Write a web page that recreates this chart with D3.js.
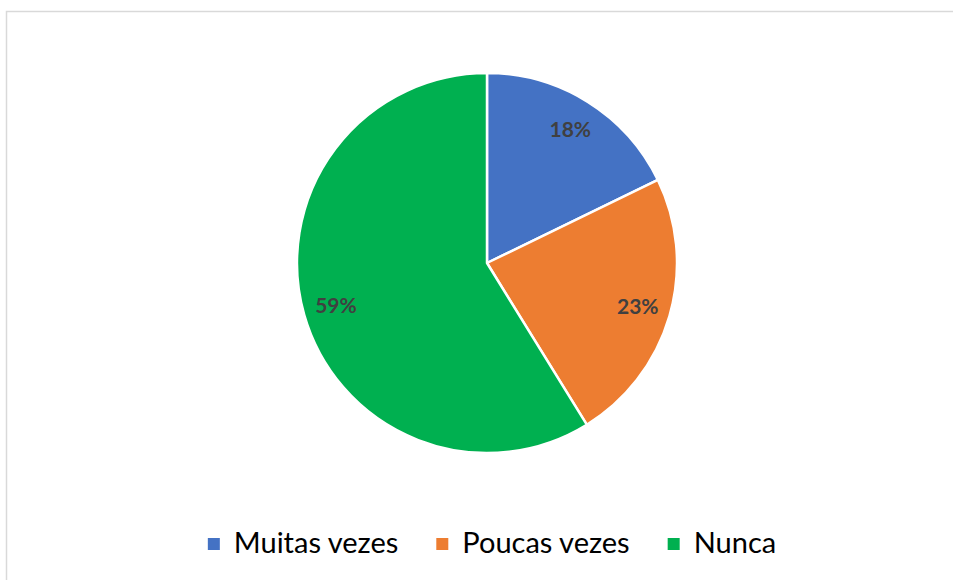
<!DOCTYPE html>
<html>
<head>
    <meta charset="utf-8">
    <title>Pie</title>
    <script src="https://cdnjs.cloudflare.com/ajax/libs/d3/7.8.5/d3.min.js"></script>
    <style>
        body { margin: 0; background: #fff; }
        svg { display: block; }
    </style>
</head>
<body>
    <div id="chart"></div>

    <script>
        // data (shares in %)
        var categories = ["Muitas vezes", "Poucas vezes", "Nunca"];
        var values = [17.8, 23.4, 58.8];
        var colors = ["#4472C4", "#ED7D31", "#00B050"];

        var width = 953,
            height = 580,
            radius = 190,
            cx = 487,
            cy = 263;

        var svg = d3.select("#chart").append("svg")
            .attr("width", width)
            .attr("height", height);

        // chart frame (runs off the right and bottom edges)
        svg.append("rect")
            .attr("x", 6.5)
            .attr("y", 11.5)
            .attr("width", 980)
            .attr("height", 620)
            .attr("fill", "none")
            .attr("stroke", "#d9d9d9")
            .attr("stroke-width", 1.5);

        var total = d3.sum(values);

        var color = d3.scaleOrdinal()
            .domain(categories)
            .range(colors);

        var pie = d3.pie()
            .sort(null)
            .value(function(d, i) { return values[i]; });

        var arc = d3.arc()
            .innerRadius(0)
            .outerRadius(radius);

        var labelArc = d3.arc()
            .innerRadius(157)
            .outerRadius(157);

        var g = svg.append("g")
            .attr("transform", "translate(" + cx + "," + cy + ")");

        var slices = pie(categories);

        g.selectAll("path")
            .data(slices)
            .enter().append("path")
            .attr("d", arc)
            .attr("fill", function(d) { return color(d.data); })
            .attr("stroke", "#fff")
            .attr("stroke-width", 2.5)
            .attr("stroke-linejoin", "round");

        g.selectAll("text")
            .data(slices)
            .enter().append("text")
            .attr("transform", function(d) { return "translate(" + labelArc.centroid(d) + ")"; })
            .attr("dy", "0.36em")
            .attr("text-anchor", "middle")
            .style("font-family", "Lato, 'Open Sans', sans-serif")
            .style("font-weight", "bold")
            .style("font-size", "21px")
            .style("fill", "#404040")
            .text(function(d) { return Math.round(d.value / total * 100) + "%"; });

        // legend, laid out from measured text widths and centred
        var legend = svg.append("g");
        var box = 12, gapText = 14, gapItem = 38, baseline = 553;
        var items = legend.selectAll("g")
            .data(categories)
            .enter().append("g");

        items.append("rect")
            .attr("width", box)
            .attr("height", box)
            .attr("y", baseline - 15)
            .attr("fill", function(d) { return color(d); });

        items.append("text")
            .attr("x", box + gapText)
            .attr("y", baseline)
            .style("font-family", "Lato, 'Open Sans', sans-serif")
            .style("font-size", "29px")
            .style("fill", "#000")
            .text(function(d) { return d; });

        var xpos = 0;
        items.each(function() {
            var w = d3.select(this).select("text").node().getComputedTextLength();
            d3.select(this).attr("transform", "translate(" + xpos + ",0)");
            xpos += box + gapText + w + gapItem;
        });
        xpos -= gapItem;
        legend.attr("transform", "translate(" + (492 - xpos / 2) + ",0)");
    </script>
</body>
</html>
